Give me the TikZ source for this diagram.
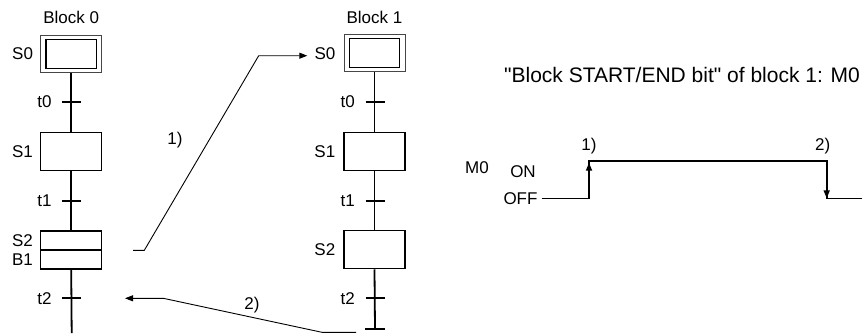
\documentclass[tikz,border=0pt]{standalone}
\usepackage{fontspec}
\setmainfont{Liberation Sans}
\usepackage{tikz}
\usetikzlibrary{arrows.meta, positioning, calc}
\definecolor{sfcblack}{RGB}{0,0,0}
\definecolor{sfcgray}{RGB}{70,70,70}
\tikzset{
  stepbox/.style={rectangle, draw=sfcblack, minimum width=61pt,
    minimum height=38pt, inner sep=0pt, line width=1.1pt},
  initbox/.style={rectangle, draw=sfcgray, minimum width=61pt,
    minimum height=37pt, inner sep=0pt, line width=1pt},
  initinner/.style={rectangle, draw=sfcblack, minimum width=50.5pt,
    minimum height=29pt, inner sep=0pt, line width=1.1pt},
  lbl/.style={font=\fontsize{17}{20}\selectfont, inner sep=0pt},
  biglbl/.style={font=\fontsize{21}{25}\selectfont, inner sep=0pt},
  spine/.style={line width=1.8pt, color=sfcblack},
  arrow/.style={-{Triangle[length=8pt,width=6pt]}, line width=0.9pt, color=sfcblack},
  wave/.style={line width=1.6pt, color=sfcblack}
}

\begin{document}
\begin{tikzpicture}[x=1pt, y=-1pt]
  \useasboundingbox (0,0) rectangle (862,333);
  % Block 0
  \node[initbox] (a0) at (71.2,53.8) {};
  \node[initinner] (a0i) at (a0) {};
  \node[stepbox] (a1) at (71.2,151.7) {};
  \node[stepbox] (a2) at (71.2,250) {};
  \draw[line width=1.1pt] (a2.west) -- (a2.east);
  \node[lbl, above=11pt of a0] (blk0) {Block 0};
  \node[lbl, left=7pt of a0] (a0l) {S0};
  \node[lbl, left=7pt of a1] (a1l) {S1};
  \coordinate (a2u) at ($(a2.north west)!0.25!(a2.south west)$);
  \coordinate (a2d) at ($(a2.north west)!0.75!(a2.south west)$);
  \node[lbl, left=7pt of a2u] (a2l) {S2};
  \node[lbl, left=7pt of a2d] (a2b) {B1};
  \draw[spine] (a0.south) -- (a1.north);
  \draw[spine] (a1.south) -- (a2.north);
  \draw[spine] (a2.south) -- (71.7,333);
  \foreach \y/\t in {101.7/0, 201/1, 298.3/2} {
    \coordinate (ta\t) at (71.7,\y);
    \draw[spine] ($(ta\t)+(-9.5,0)$) -- ($(ta\t)+(9.5,0)$);
    \node[lbl, left=20pt of ta\t] (tal\t) {t\t};
  }
  % Block 1
  \node[initbox] (b0) at (374.5,53.4) {};
  \node[initinner] (b0i) at (b0) {};
  \node[stepbox] (b1) at (374.5,151.7) {};
  \node[stepbox] (b2) at (374.5,249.7) {};
  \node[lbl, above=11pt of b0] (blk1) {Block 1};
  \node[lbl, left=8pt of b0] (b0l) {S0};
  \node[lbl, left=8pt of b1] (b1l) {S1};
  \node[lbl, left=8pt of b2] (b2l) {S2};
  \coordinate (bend) at (375,329.3);
  \draw[spine] (b0.south) -- (b1.north);
  \draw[spine] (b1.south) -- (b2.north);
  \draw[spine] (b2.south) -- (bend);
  \draw[spine] ($(bend)+(-10,0)$) -- ($(bend)+(10,0)$);
  \foreach \y/\t in {102/0, 201/1, 298.3/2} {
    \coordinate (tb\t) at (375,\y);
    \draw[spine] ($(tb\t)+(-9.5,0)$) -- ($(tb\t)+(9.5,0)$);
    \node[lbl, left=20pt of tb\t] (tbl\t) {t\t};
  }
  % jumps between blocks
  \coordinate (p1s) at (133,250.3);
  \draw[arrow, shorten >=7pt] (p1s) -- (144.3,250.3) -- (258.7,55.7) -- (b0l.west |- 0,55.7);
  \node[lbl] (j1) at (175,140) {1)};
  \coordinate (p2s) at (356,332.3);
  \coordinate (p2e) at (125,298.3);
  \draw[arrow] (p2s) -- (322,332.3) -- (163.3,298.3) -- (p2e);
  \node[lbl] (j2) at (252,305) {2)};
  % M0 timing
  \node[biglbl] (title) at (682,75) {\textquotedbl Block START/END bit\textquotedbl{} of block 1: M0};
  \node[lbl] (m0) at (477,168) {M0};
  \node[lbl] (on) at (523,172) {ON};
  \coordinate (w0) at (541.7,198.3);
  \coordinate (wup) at (589,198.3);
  \coordinate (wupt) at (589,160.7);
  \coordinate (wdn) at (826.7,160.7);
  \coordinate (wdnb) at (826.7,198.3);
  \coordinate (wend) at (862,198.3);
  \node[lbl, left=4pt of w0] (off) {OFF};
  \draw[wave] (w0) -- (wup) -- (wupt) -- (wdn) -- (wdnb) -- (wend);
  \draw[arrow, line width=1.6pt] (wup) -- ($(wupt)+(0,2)$);
  \draw[arrow, line width=1.6pt] (wdn) -- (wdnb);
  \node[lbl, above=6pt of wupt] (e1) {1)};
  \node[lbl, above=6pt of wdn, xshift=-4pt] (e2) {2)};
\end{tikzpicture}
\end{document}
